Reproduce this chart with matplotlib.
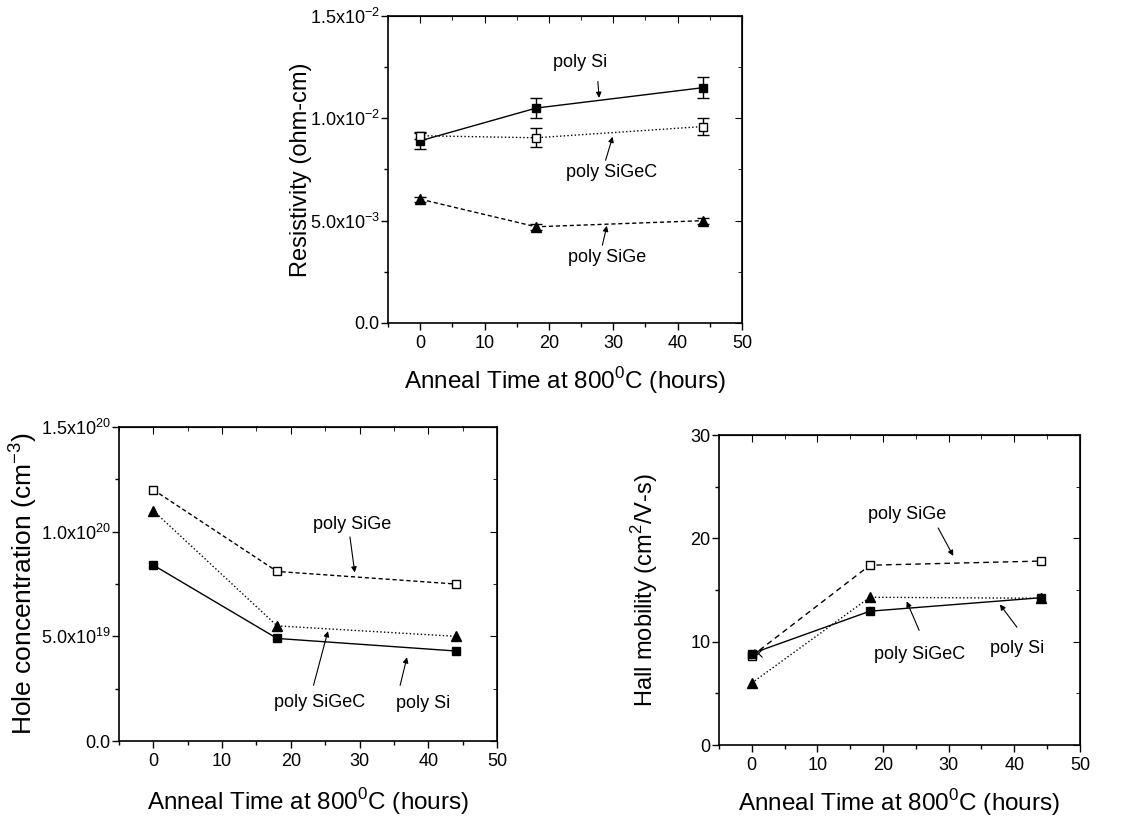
import numpy as np
import matplotlib
matplotlib.use('Agg')
import matplotlib.pyplot as plt
from matplotlib.ticker import MultipleLocator, FuncFormatter

plt.rcParams['font.family'] = ['Liberation Sans', 'DejaVu Sans']
plt.rcParams['mathtext.fontset'] = 'custom'
plt.rcParams['mathtext.rm'] = 'Liberation Sans'

# anneal times (hours)
hours = [0, 18, 44]

# resistivity (ohm-cm) with error bars
res_si = [8.9e-3, 10.5e-3, 11.5e-3]
res_si_err = [0.42e-3, 0.5e-3, 0.5e-3]
res_sigec = [9.15e-3, 9.05e-3, 9.6e-3]
res_sigec_err = [0.15e-3, 0.47e-3, 0.4e-3]
res_sige = [6.05e-3, 4.7e-3, 5.0e-3]
res_sige_err = [0.12e-3, 0.15e-3, 0.15e-3]

# hole concentration (cm^-3)
hole_sige = [1.2e20, 8.1e19, 7.5e19]
hole_sigec = [1.1e20, 5.5e19, 5.0e19]
hole_si = [8.4e19, 4.9e19, 4.3e19]

# Hall mobility (cm^2/V-s)
mob_sige = [8.6, 17.4, 17.8]
mob_sigec = [6.0, 14.3, 14.2]
mob_si = [8.85, 12.95, 14.25]
mob_cross = ([0.9], [8.9])

xlabel = 'Anneal Time at 800$^{\\mathregular{0}}$C (hours)'

fig = plt.figure(figsize=(11.26, 8.16), dpi=100)


def style_axes(ax, ymax, ymajor, xlab_y):
    ax.set_xlim(-5, 50)
    ax.set_ylim(0, ymax)
    ax.xaxis.set_major_locator(MultipleLocator(10))
    ax.xaxis.set_minor_locator(MultipleLocator(5))
    ax.yaxis.set_major_locator(MultipleLocator(ymajor))
    ax.yaxis.set_minor_locator(MultipleLocator(ymajor / 2))
    ax.tick_params(which='both', direction='out', labelsize=13, width=1)
    ax.tick_params(which='major', length=5)
    ax.tick_params(which='minor', length=3)
    ax.tick_params(axis='y', pad=1)
    for s in ax.spines.values():
        s.set_linewidth(1.2)
    top = ax.secondary_xaxis('top')
    top.xaxis.set_major_locator(MultipleLocator(10))
    top.xaxis.set_minor_locator(MultipleLocator(5))
    top.tick_params(which='both', direction='in', labeltop=False)
    top.tick_params(which='major', length=5)
    top.tick_params(which='minor', length=3)
    right = ax.secondary_yaxis('right')
    right.yaxis.set_major_locator(MultipleLocator(ymajor))
    right.yaxis.set_minor_locator(MultipleLocator(ymajor / 2))
    right.tick_params(which='both', direction='in', labelright=False)
    right.tick_params(which='major', length=5)
    right.tick_params(which='minor', length=3)
    ax.set_xlabel(xlabel, fontsize=17.5, va='center')
    ax.xaxis.set_label_coords(0.5, xlab_y)


def set_ylab(ax, text, size, xpos):
    ax.set_ylabel(text, fontsize=size, va='center')
    ax.yaxis.set_label_coords(xpos, 0.5)


def sci_fmt(v, pos):
    if v == 0:
        return '0.0'
    e = int(np.floor(np.log10(abs(v)) + 1e-9))
    m = v / 10 ** e
    return '%.1fx10$^{\\mathregular{%d}}$' % (m, e)


def note(ax, text, txy, start, end):
    ax.text(txy[0], txy[1], text, fontsize=13, ha='center', va='center')
    ax.annotate('', xy=end, xytext=start,
                arrowprops=dict(arrowstyle='-|>', color='black', lw=0.8,
                                mutation_scale=8, shrinkA=0, shrinkB=0))


# --- resistivity ---
ax1 = fig.add_axes([0.3446, 0.6042, 0.3144, 0.3762])
ax1.errorbar(hours, res_si, yerr=res_si_err, color='black', lw=1, ls='-',
             marker='s', ms=5.5, mfc='black', capsize=4, elinewidth=1)
ax1.errorbar(hours, res_sigec, yerr=res_sigec_err, color='black', lw=1, ls=':',
             marker='s', ms=5.5, mfc='white', capsize=4, elinewidth=1)
ax1.errorbar(hours, res_sige, yerr=res_sige_err, color='black', lw=1, ls=(0, (3, 2)),
             marker='^', ms=6.5, mfc='black', capsize=4, elinewidth=1)
style_axes(ax1, 0.015, 0.005, -0.186)
ax1.yaxis.set_major_formatter(FuncFormatter(sci_fmt))
set_ylab(ax1, 'Resistivity (ohm-cm)', 17, -0.245)
note(ax1, 'poly Si', (24.8, 12.75e-3), (27.6, 11.8e-3), (27.8, 11.0e-3))
note(ax1, 'poly SiGeC', (29.8, 7.33e-3), (28.8, 7.95e-3), (29.9, 9.1e-3))
note(ax1, 'poly SiGe', (29.1, 3.22e-3), (28.3, 3.8e-3), (29.0, 4.75e-3))

# --- hole concentration ---
ax2 = fig.add_axes([0.1057, 0.0919, 0.3357, 0.3848])
ax2.plot(hours, hole_sige, color='black', lw=1, ls=(0, (3, 2)),
         marker='s', ms=5.5, mfc='white')
ax2.plot(hours, hole_sigec, color='black', lw=1, ls=':',
         marker='^', ms=6.5, mfc='black')
ax2.plot(hours, hole_si, color='black', lw=1, ls='-',
         marker='s', ms=5.5, mfc='black')
style_axes(ax2, 1.5e20, 5e19, -0.194)
ax2.yaxis.set_major_formatter(FuncFormatter(sci_fmt))
set_ylab(ax2, 'Hole concentration (cm$^{\\mathregular{-3}}$)', 19, -0.255)
note(ax2, 'poly SiGe', (28.9, 10.35e19), (28.6, 9.75e19), (29.3, 8.05e19))
note(ax2, 'poly SiGeC', (24.2, 1.83e19), (23.3, 2.66e19), (25.4, 5.25e19))
note(ax2, 'poly Si', (39.2, 1.78e19), (35.9, 2.66e19), (36.9, 4.0e19))

# --- Hall mobility ---
ax3 = fig.add_axes([0.6385, 0.087, 0.3206, 0.3799])
ax3.plot(hours, mob_sige, color='black', lw=1, ls=(0, (4, 3)),
         marker='s', ms=5.5, mfc='white')
ax3.plot(hours, mob_sigec, color='black', lw=1, ls=':',
         marker='^', ms=6.5, mfc='black')
ax3.plot(hours, mob_si, color='black', lw=1, ls='-',
         marker='s', ms=5.5, mfc='black')
ax3.plot(mob_cross[0], mob_cross[1], ls='none', marker='x', ms=6, color='black', mew=0.8)
style_axes(ax3, 30, 10, -0.185)
set_ylab(ax3, 'Hall mobility (cm$^{\\mathregular{2}}$/V-s)', 17, -0.205)
note(ax3, 'poly SiGe', (23.6, 22.3), (28.4, 21.0), (30.7, 18.3))
note(ax3, 'poly SiGeC', (25.6, 8.8), (25.5, 11.1), (23.6, 13.9))
note(ax3, 'poly Si', (40.4, 9.3), (40.4, 11.4), (37.8, 13.6))

fig.savefig('out.png', dpi=100)
